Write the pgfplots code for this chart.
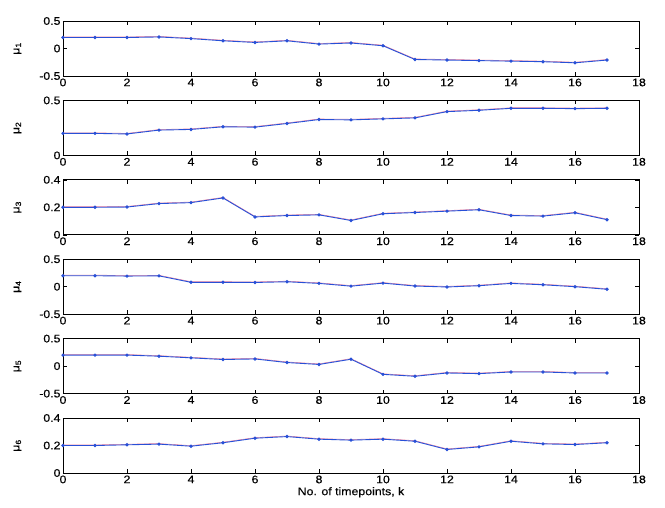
\documentclass[border=0pt]{standalone}
\usepackage{fontspec}
\setmainfont{Liberation Sans}
\newfontfamily\lblfont[FakeStretch=1.12,FakeBold=0.3]{Liberation Sans}
\usepackage{pgfplots}
\pgfplotsset{compat=1.18}
\usepgfplotslibrary{groupplots}

\definecolor{mline}{RGB}{40,80,215}
\definecolor{mhalo}{RGB}{235,120,150}

\newcommand{\fsz}{\lblfont\fontsize{11}{13}\selectfont}

\pgfplotsset{
  panel/.style={
    width=576pt, height=55pt, scale only axis,
    xmin=0, xmax=18, xtick={0,2,...,18},
    tick align=inside, major tick length=4pt,
    tick style={black, line width=0.5pt},
    axis line style={line width=0.7pt},
    /pgf/number format/assume math mode=true,
    tick label style={font=\fsz},
    xticklabel style={yshift=1pt},
    yticklabel style={xshift=1pt},
    label style={font=\fsz},
    ylabel style={at={(axis description cs:0,0.5)}, anchor=south, yshift=38pt},
  },
  halo/.style={mhalo, line width=0.5pt, yshift=0.6pt, no marks},
  mainline/.style={mline, line width=0.9pt, mark=*, mark size=1.2pt, mark options={mline}},
}

\begin{document}
\begin{tikzpicture}
\begin{groupplot}[group style={group size=1 by 6, vertical sep=24.4pt}, panel]

\nextgroupplot[ymin=-0.5, ymax=0.5, ytick={-0.5,0,0.5}, ylabel={μ\textsubscript{1}}]
\pgfplotstableread{
k v
0 0.20
1 0.20
2 0.20
3 0.21
4 0.18
5 0.14
6 0.11
7 0.14
8 0.08
9 0.10
10 0.05
11 -0.20
12 -0.21
13 -0.22
14 -0.23
15 -0.24
16 -0.26
17 -0.21
}\muA
\addplot[halo] table {\muA};
\addplot[mainline] table {\muA};

\nextgroupplot[ymin=0, ymax=0.5, ytick={0,0.5}, ylabel={μ\textsubscript{2}}]
\pgfplotstableread{
k v
0 0.200
1 0.200
2 0.195
3 0.230
4 0.236
5 0.260
6 0.257
7 0.290
8 0.326
9 0.323
10 0.332
11 0.341
12 0.398
13 0.410
14 0.428
15 0.428
16 0.425
17 0.428
}\muB
\addplot[halo] table {\muB};
\addplot[mainline] table {\muB};

\nextgroupplot[ymin=0, ymax=0.4, ytick={0,0.2,0.4}, ylabel={μ\textsubscript{3}}]
\pgfplotstableread{
k v
0 0.200
1 0.200
2 0.202
3 0.227
4 0.234
5 0.268
6 0.130
7 0.140
8 0.145
9 0.104
10 0.153
11 0.162
12 0.172
13 0.182
14 0.140
15 0.136
16 0.160
17 0.110
}\muC
\addplot[halo] table {\muC};
\addplot[mainline] table {\muC};

\nextgroupplot[ymin=-0.5, ymax=0.5, ytick={-0.5,0,0.5}, ylabel={μ\textsubscript{4}}]
\pgfplotstableread{
k v
0 0.200
1 0.200
2 0.193
3 0.197
4 0.080
5 0.080
6 0.077
7 0.090
8 0.060
9 0.010
10 0.065
11 0.012
12 -0.005
13 0.018
14 0.060
15 0.035
16 0.000
17 -0.047
}\muD
\addplot[halo] table {\muD};
\addplot[mainline] table {\muD};

\nextgroupplot[ymin=-0.5, ymax=0.5, ytick={-0.5,0,0.5}, ylabel={μ\textsubscript{5}}]
\pgfplotstableread{
k v
0 0.200
1 0.200
2 0.200
3 0.180
4 0.150
5 0.120
6 0.130
7 0.065
8 0.030
9 0.125
10 -0.150
11 -0.185
12 -0.125
13 -0.137
14 -0.107
15 -0.107
16 -0.125
17 -0.125
}\muE
\addplot[halo] table {\muE};
\addplot[mainline] table {\muE};

\nextgroupplot[ymin=0, ymax=0.4, ytick={0,0.2,0.4}, ylabel={μ\textsubscript{6}},
  xlabel={No. of timepoints, k}, xlabel style={yshift=3pt}]
\pgfplotstableread{
k v
0 0.200
1 0.200
2 0.205
3 0.210
4 0.195
5 0.220
6 0.253
7 0.265
8 0.246
9 0.239
10 0.246
11 0.231
12 0.171
13 0.190
14 0.231
15 0.212
16 0.207
17 0.220
}\muF
\addplot[halo] table {\muF};
\addplot[mainline] table {\muF};

\end{groupplot}
\path[use as bounding box] ([xshift=-63pt,yshift=21pt]group c1r1.north west) rectangle ++(665pt,-507pt);
\end{tikzpicture}
\end{document}
